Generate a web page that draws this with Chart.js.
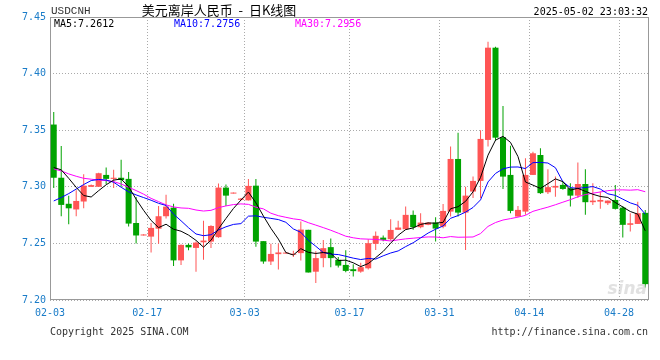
<!DOCTYPE html>
<html>
<head>
<meta charset="utf-8">
<script src="https://cdn.jsdelivr.net/npm/chart.js@4/dist/chart.umd.min.js"></script>
<style>
  html, body { margin: 0; padding: 0; background: #fff; overflow: hidden; }
  canvas { display: block; }
</style>
</head>
<body>
<canvas id="chart" width="660" height="360"></canvas>
<script>
// daily candles, 02-03 .. 05-02
var opens = [7.355, 7.308, 7.285, 7.280, 7.287, 7.300, 7.300, 7.3105, 7.307, 7.308,
  7.307, 7.268, 7.257, 7.256, 7.263, 7.274, 7.2816, 7.235, 7.2487, 7.246,
  7.251, 7.2516, 7.2555, 7.2993, 7.294, 7.2885, 7.288, 7.301, 7.252, 7.234,
  7.2405, 7.241, 7.240, 7.2414, 7.262, 7.225, 7.237, 7.2467, 7.2355, 7.231,
  7.2272, 7.2251, 7.228, 7.2496, 7.2551, 7.2537, 7.262, 7.2625, 7.2752, 7.2643,
  7.2664, 7.2684, 7.2649, 7.2781, 7.3246, 7.2772, 7.2958, 7.3052, 7.3414, 7.4229,
  7.3438, 7.3105, 7.2737, 7.2781, 7.3105, 7.3281, 7.2952, 7.2993, 7.3017, 7.2988,
  7.2922, 7.3025, 7.2864, 7.2869, 7.2855, 7.2884, 7.2816, 7.2664, 7.2672, 7.277];
var highs = [7.366, 7.336, 7.292, 7.297, 7.311, 7.302, 7.3125, 7.317, 7.315, 7.324,
  7.313, 7.291, 7.258, 7.268, 7.283, 7.293, 7.285, 7.249, 7.250, 7.2516,
  7.270, 7.266, 7.303, 7.302, 7.295, 7.290, 7.307, 7.307, 7.252, 7.2496,
  7.250, 7.242, 7.2435, 7.2693, 7.262, 7.243, 7.253, 7.2543, 7.238, 7.244,
  7.2316, 7.233, 7.2537, 7.2605, 7.257, 7.2714, 7.270, 7.2825, 7.279, 7.2767,
  7.269, 7.2731, 7.2849, 7.3355, 7.3478, 7.300, 7.309, 7.350, 7.4282, 7.4238,
  7.3714, 7.3363, 7.2831, 7.3252, 7.331, 7.334, 7.3155, 7.309, 7.3046, 7.3032,
  7.3214, 7.3155, 7.3032, 7.2958, 7.288, 7.3017, 7.2831, 7.2767, 7.2869, 7.2796];
var lows = [7.299, 7.274, 7.267, 7.274, 7.281, 7.300, 7.300, 7.3025, 7.299, 7.300,
  7.265, 7.250, 7.257, 7.242, 7.2496, 7.272, 7.230, 7.231, 7.244, 7.225,
  7.2355, 7.246, 7.255, 7.283, 7.294, 7.288, 7.288, 7.247, 7.232, 7.231,
  7.227, 7.241, 7.238, 7.235, 7.2243, 7.215, 7.229, 7.229, 7.2286, 7.2246,
  7.2207, 7.224, 7.227, 7.2442, 7.252, 7.2525, 7.2619, 7.262, 7.262, 7.2634,
  7.266, 7.2516, 7.2634, 7.2737, 7.2737, 7.2442, 7.290, 7.290, 7.3355, 7.3405,
  7.298, 7.2766, 7.2737, 7.2752, 7.3105, 7.2937, 7.2937, 7.2913, 7.2975, 7.2825,
  7.290, 7.2752, 7.284, 7.2805, 7.284, 7.280, 7.2552, 7.2605, 7.2672, 7.211];
var closes = [7.308, 7.284, 7.281, 7.2875, 7.301, 7.3015, 7.312, 7.307, 7.308, 7.306,
  7.2675, 7.257, 7.2575, 7.2637, 7.274, 7.2825, 7.235, 7.2487, 7.2465, 7.2507,
  7.2525, 7.2654, 7.2993, 7.2922, 7.2949, 7.2896, 7.3008, 7.2516, 7.234, 7.2407,
  7.242, 7.2415, 7.2405, 7.2622, 7.2243, 7.237, 7.2458, 7.237, 7.2304, 7.2257,
  7.2255, 7.229, 7.2502, 7.2567, 7.2531, 7.2619, 7.264, 7.2752, 7.2643, 7.2684,
  7.2684, 7.2631, 7.2787, 7.3246, 7.2772, 7.2922, 7.3052, 7.3423, 7.4229, 7.3434,
  7.309, 7.2787, 7.2796, 7.3105, 7.3296, 7.2944, 7.2997, 7.3008, 7.2981, 7.2922,
  7.3025, 7.2864, 7.2878, 7.2884, 7.2878, 7.2805, 7.2664, 7.2678, 7.2767, 7.214];

// MA values before enough history exists inside the window
var ma5Head = [7.317, 7.315, 7.3075, 7.2995];
var ma10Head = [7.2875, 7.2905, 7.294, 7.298, 7.302, 7.3055, 7.3065, 7.306, 7.304];
var ma30Head = [7.3158, 7.314, 7.3114, 7.3093, 7.3075, 7.3067, 7.306, 7.3055, 7.3046, 7.3025,
  7.2996, 7.2967, 7.2935, 7.2898, 7.2869, 7.284, 7.2822, 7.2813, 7.281, 7.2795,
  7.2786, 7.2792, 7.2816, 7.2831, 7.2843, 7.2849, 7.2845, 7.282, 7.2805];

// x axis: candle index where each labelled date starts
var dateIdx = [0, 13, 26, 40, 52, 64, 76];
var dateText = ['02-03', '02-17', '03-03', '03-17', '03-31', '04-14', '04-28'];

var yTicks = [7.20, 7.25, 7.30, 7.35, 7.40, 7.45];
var maText = ['MA5:7.2612', 'MA10:7.2756', 'MA30:7.2956'];

var RED = '#ff5555', GREEN = '#00a300';
var MONO = '10px "DejaVu Sans Mono", monospace';
var BLUE_TXT = '#1a7cc8';

function movingAvg(n, head) {
  return closes.map(function (c, i) {
    if (i < n - 1) return head[i];
    var s = 0;
    for (var k = i - n + 1; k <= i; k++) s += closes[k];
    return s / n;
  });
}

var colors = closes.map(function (c, i) { return c >= opens[i] ? RED : GREEN; });
var wicks = closes.map(function (c, i) { return { x: i, y: [lows[i], highs[i]] }; });
var bodies = closes.map(function (c, i) { return { x: i, y: [opens[i], c] }; });
function line(arr) { return arr.map(function (v, i) { return { x: i, y: v }; }); }

var frame = {
  id: 'frame',
  beforeDatasetsDraw: function (chart) {
    var a = chart.chartArea, ctx = chart.ctx;
    ctx.save();
    ctx.strokeStyle = '#999';
    ctx.lineWidth = 1;
    ctx.strokeRect(a.left + 0.5, a.top + 0.5, a.right - a.left - 1, a.bottom - a.top - 1);
    ctx.restore();
  },
  afterDraw: function (chart) {
    var ctx = chart.ctx, a = chart.chartArea;
    ctx.save();
    ctx.textBaseline = 'middle';
    // watermark
    ctx.font = 'italic bold 17px "DejaVu Sans", sans-serif';
    ctx.fillStyle = 'rgba(205,205,205,0.6)';
    ctx.textAlign = 'right';
    ctx.fillText('sina', a.right - 2, a.bottom - 10);

    ctx.font = '11px "Liberation Mono", monospace';
    ctx.fillStyle = '#333';
    ctx.textAlign = 'left';
    ctx.fillText('USDCNH', 51, 11);

    ctx.font = '13px "Noto Sans CJK SC", sans-serif';
    ctx.fillStyle = '#000';
    ctx.textAlign = 'center';
    ctx.fillText('美元离岸人民币  -  日K线图', 219, 10);

    ctx.font = MONO;
    ctx.textAlign = 'right';
    ctx.fillText('2025-05-02 23:03:32', 648, 12);

    ctx.textAlign = 'left';
    ctx.fillStyle = '#000';
    ctx.fillText(maText[0], 54, 24);
    ctx.fillStyle = '#0000ff';
    ctx.fillText(maText[1], 174, 24);
    ctx.fillStyle = '#ff00ff';
    ctx.fillText(maText[2], 295, 24);

    ctx.fillStyle = '#333';
    ctx.fillText('Copyright 2025 SINA.COM', 50, 332);
    ctx.textAlign = 'right';
    ctx.fillText('http://finance.sina.com.cn', 648, 332);
    ctx.restore();
  }
};

new Chart(document.getElementById('chart'), {
  type: 'bar',
  data: {
    datasets: [
      { type: 'line', label: 'MA5', data: line(movingAvg(5, ma5Head)), borderColor: '#000', borderWidth: 1, pointRadius: 0, tension: 0, order: 0 },
      { type: 'line', label: 'MA10', data: line(movingAvg(10, ma10Head)), borderColor: '#0000ff', borderWidth: 1, pointRadius: 0, tension: 0, order: 0 },
      { type: 'line', label: 'MA30', data: line(movingAvg(30, ma30Head)), borderColor: '#ff00ff', borderWidth: 1, pointRadius: 0, tension: 0, order: 0 },
      { label: 'body', data: bodies, backgroundColor: colors, barThickness: 6, minBarLength: 1, grouped: false, inflateAmount: 0, order: 1 },
      { label: 'wick', data: wicks, backgroundColor: colors, barThickness: 1, minBarLength: 1, grouped: false, inflateAmount: 0, order: 2 }
    ]
  },
  options: {
    responsive: false,
    animation: false,
    devicePixelRatio: 1,
    layout: { padding: { top: 17, right: 11, left: 0, bottom: 0 } },
    plugins: { legend: { display: false }, tooltip: { enabled: false } },
    scales: {
      x: {
        type: 'linear',
        min: -0.5,
        max: closes.length - 0.5,
        offset: false,
        afterBuildTicks: function (s) { s.ticks = dateIdx.map(function (i) { return { value: i - 0.5 }; }); },
        afterFit: function (s) { s.height = 60; },
        grid: { color: '#aaa', drawTicks: false, offset: false },
        border: { display: false, dash: [1, 2] },
        ticks: {
          autoSkip: false, maxRotation: 0, padding: 7,
          color: BLUE_TXT, font: { family: '"DejaVu Sans Mono", monospace', size: 10 },
          callback: function (v, k) { return dateText[k]; }
        }
      },
      y: {
        min: yTicks[0],
        max: yTicks[yTicks.length - 1],
        afterBuildTicks: function (s) { s.ticks = yTicks.map(function (v) { return { value: v }; }); },
        afterFit: function (s) { s.width = 50; },
        grid: { color: '#aaa', drawTicks: false },
        border: { display: false, dash: [1, 2] },
        ticks: {
          padding: 4, color: BLUE_TXT, font: { family: '"DejaVu Sans Mono", monospace', size: 10 },
          callback: function (v) { return v.toFixed(2); }
        }
      }
    }
  },
  plugins: [frame]
});
</script>
</body>
</html>
